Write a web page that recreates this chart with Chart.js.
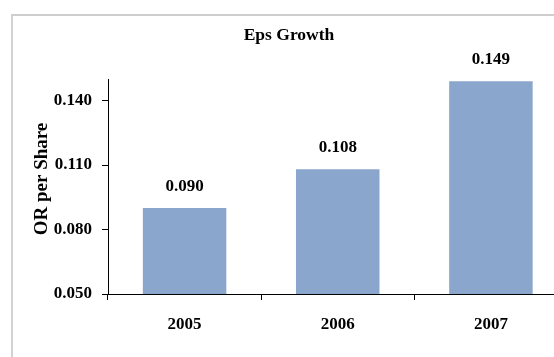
<!DOCTYPE html>
<html>
<head>
<meta charset="utf-8">
<script src="https://cdn.jsdelivr.net/npm/chart.js@4/dist/chart.umd.min.js"></script>
<style>
  html, body { margin: 0; padding: 0; background: #fff; overflow: hidden; width: 554px; height: 357px; }
  #frame { position: absolute; left: 11px; top: 14px; width: 620px; height: 400px;
           border-left: 2px solid #d2d2d2; border-top: 2px solid #cdcdcd; }
  #wrap { position: absolute; left: 0; top: 0; width: 600px; height: 357px; }
</style>
</head>
<body>
<div id="frame"></div>
<div id="wrap"><canvas id="c" width="600" height="357"></canvas></div>
<script>
// Earnings per share by year
const years = ['2005', '2006', '2007'];
const eps = [0.090, 0.108, 0.149];
const yTicks = [0.050, 0.080, 0.110, 0.140];
const chartTitle = 'Eps Growth';
const yTitle = 'OR per Share';

const serif = '"Liberation Serif", "Times New Roman", serif';

// Title, axis title and value labels drawn onto the canvas
const textPlugin = {
  id: 'texts',
  afterDraw(chart) {
    const ctx = chart.ctx;
    ctx.save();
    ctx.fillStyle = '#000';
    ctx.textAlign = 'center';
    ctx.textBaseline = 'alphabetic';
    ctx.font = 'bold 17.5px ' + serif;
    ctx.fillText(chartTitle, 289, 39.5);

    // value labels above each bar
    const meta = chart.getDatasetMeta(0);
    ctx.font = 'bold 17px ' + serif;
    meta.data.forEach((bar, i) => {
      ctx.fillText(eps[i].toFixed(3), bar.x, bar.y - 17);
    });

    // rotated y-axis title
    ctx.translate(47, 179);
    ctx.rotate(-Math.PI / 2);
    ctx.font = 'bold 19px ' + serif;
    ctx.fillText(yTitle, 0, 0);
    ctx.restore();
  }
};

new Chart(document.getElementById('c'), {
  type: 'bar',
  data: {
    labels: years,
    datasets: [{
      data: eps,
      backgroundColor: '#8aa6cd',
      borderWidth: 0,
      barPercentage: 0.545,
      categoryPercentage: 1.0
    }]
  },
  options: {
    responsive: false,
    animation: false,
    devicePixelRatio: 1,
    layout: { padding: { left: 0, top: 79, right: 32.5, bottom: 0 } },
    plugins: {
      legend: { display: false },
      title: { display: false },
      tooltip: { enabled: false }
    },
    scales: {
      x: {
        grid: { display: true, drawOnChartArea: false, offset: true, color: '#000', tickLength: 6, lineWidth: 1 },
        border: { display: true, color: '#000', width: 1 },
        ticks: { color: '#000', padding: 14, font: { family: serif, size: 17, weight: 'bold' } },
        afterFit(scale) { scale.height = 63; }
      },
      y: {
        min: 0.05,
        max: 0.15,
        grid: { display: true, drawOnChartArea: false, color: '#000', tickLength: 6, lineWidth: 1 },
        border: { display: true, color: '#000', width: 1 },
        ticks: {
          color: '#000',
          padding: 10,
          font: { family: serif, size: 17, weight: 'bold' },
          callback: (v) => Number(v).toFixed(3)
        },
        afterBuildTicks(scale) { scale.ticks = yTicks.map(v => ({ value: v })); },
        afterFit(scale) { scale.width = 108; }
      }
    }
  },
  plugins: [textPlugin]
});
</script>
</body>
</html>
